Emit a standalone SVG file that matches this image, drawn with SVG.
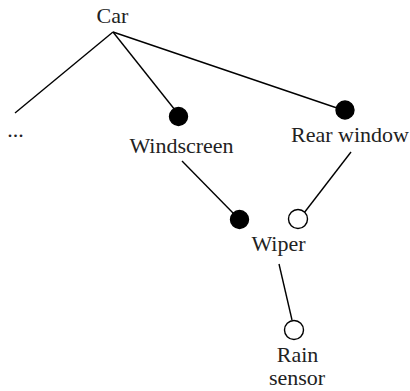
<svg xmlns="http://www.w3.org/2000/svg" width="410" height="391" viewBox="0 0 410 391">
<style>
text{font-family:"Liberation Serif","Times New Roman",serif;font-size:22px;fill:#222;text-anchor:middle}
.e{stroke:#000;stroke-width:1.4;fill:none}
.f{fill:#000;stroke:#000;stroke-width:1.4}
.o{fill:#fff;stroke:#000;stroke-width:1.4}
</style>
<rect width="410" height="391" fill="#fff"/>
<g id="connectors">
<line class="e" x1="113" y1="32" x2="15" y2="113"/>
<line class="e" x1="113" y1="32" x2="175" y2="110"/>
<line class="e" x1="113" y1="32" x2="337" y2="108"/>
<line class="e" x1="182" y1="161" x2="234" y2="214"/>
<line class="e" x1="351" y1="152" x2="304" y2="213"/>
<line class="e" x1="279" y1="264" x2="292" y2="320"/>
</g>
<g id="car"><text x="112.5" y="23">Car</text></g>
<g id="more"><text x="15.5" y="137">...</text></g>
<g id="windscreen"><circle class="f" cx="178.5" cy="116.5" r="9"/><text x="181.5" y="153">Windscreen</text></g>
<g id="rear-window"><circle class="f" cx="345" cy="110" r="9"/><text x="350" y="142">Rear window</text></g>
<g id="wiper"><circle class="f" cx="239.5" cy="219.5" r="9"/><circle class="o" cx="298" cy="219" r="9.5"/><text x="278.5" y="251">Wiper</text></g>
<g id="rain-sensor"><circle class="o" cx="294" cy="330" r="9.5"/><text x="297.5" y="362">Rain</text><text x="297" y="385">sensor</text></g>
</svg>
